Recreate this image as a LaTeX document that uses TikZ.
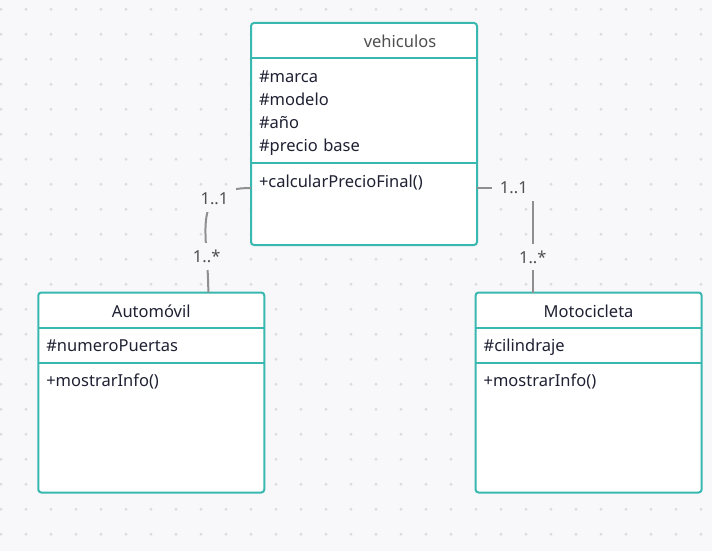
\documentclass[tikz,border=0pt]{standalone}
\usepackage{fontspec}
\setmainfont{Noto Sans}
\usetikzlibrary{positioning}
\definecolor{bgc}{HTML}{F8F8FA}
\definecolor{dotc}{HTML}{DCDCE1}
\definecolor{umlTeal}{HTML}{38B8AF}
\definecolor{ink}{HTML}{1F2133}
\definecolor{linec}{HTML}{8F8F8F}
\definecolor{labc}{HTML}{4F4F4F}
\begin{document}
\begin{tikzpicture}[x=1pt, y=-1pt,
  every node/.style={outer sep=0pt, text=ink, font=\fontsize{16.5}{23.3}\selectfont},
  head/.style={fill=white, minimum width=226pt, inner ysep=0pt,
    text height=24.5pt, text depth=10.5pt},
  part/.style={fill=white, text width=210pt, inner xsep=8pt, inner ysep=0pt,
    align=left, text height=24pt, text depth=#1},
  frame/.style={draw=umlTeal, line width=2pt, rounded corners=3pt},
  mult/.style={fill=bgc, text=labc, inner xsep=8pt, inner ysep=7pt,
    font=\fontsize{16.5}{18}\selectfont},
  assoc/.style={draw=linec, line width=2pt}]
  \fill[bgc] (0,0) rectangle (712,551);
  \useasboundingbox (0,0) rectangle (712,551);
  \foreach \x in {1,26,...,701}
    \foreach \y in {9.3,34.3,...,535}
      \fill[dotc] (\x,\y) circle (1.6pt);

  \node[head, text=labc] (veh) at (364,40.5) {\hspace*{72pt}vehiculos};
  \node[part=81pt, below=0pt of veh] (vehAttr)
    {\#marca\\\#modelo\\\#año\\\#precio base};
  \node[part=58pt, below=0pt of vehAttr] (vehOps) {+calcularPrecioFinal()};

  \node[head] (auto) at (151.3,310) {Automóvil};
  \node[part=11pt, below=0pt of auto] (autoAttr) {\#numeroPuertas};
  \node[part=106pt, below=0pt of autoAttr] (autoOps) {+mostrarInfo()};

  \node[head] (moto) at (588.6,310) {Motocicleta};
  \node[part=11pt, below=0pt of moto] (motoAttr) {\#cilindraje};
  \node[part=106pt, below=0pt of motoAttr] (motoOps) {+mostrarInfo()};

  \foreach \c in {veh,auto,moto} {
    \draw[frame] (\c.north west) rectangle (\c Ops.south east);
    \draw[frame] (\c Attr.north west) -- (\c Attr.north east)
      (\c Ops.north west) -- (\c Ops.north east);
  }

  \coordinate (vehL) at ([yshift=-25pt]vehOps.north west);
  \coordinate (vehR) at ([yshift=-25pt]vehOps.north east);
  \coordinate (autoT) at ([xshift=57pt]auto.north);
  \coordinate (motoT) at ([xshift=-55.8pt]moto.north);

  \draw[assoc] (vehL) .. controls +(-62pt,0) and ([yshift=62pt]autoT) .. (autoT)
    node[mult, pos=0.3] {1..1} node[mult, pos=0.79] {1..*};
  \draw[assoc] (vehR) -| node[mult, pos=0.33] {1..1}
    node[mult, pos=0.83] {1..*} (motoT);
\end{tikzpicture}
\end{document}
